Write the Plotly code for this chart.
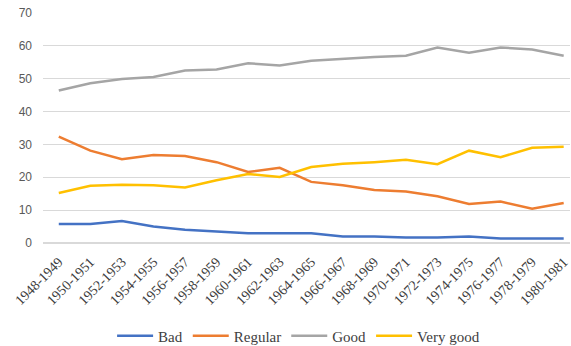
import plotly.graph_objects as go

periods = ["1948-1949", "1950-1951", "1952-1953", "1954-1955", "1956-1957", "1958-1959",
           "1960-1961", "1962-1963", "1964-1965", "1966-1967", "1968-1969", "1970-1971",
           "1972-1973", "1974-1975", "1976-1977", "1978-1979", "1980-1981"]
bad = [5.8, 5.8, 6.7, 5.0, 4.0, 3.5, 3.0, 3.0, 3.0, 2.0, 2.0, 1.7, 1.7, 2.0, 1.4, 1.4, 1.4]
regular = [32.4, 28.1, 25.5, 26.8, 26.5, 24.6, 21.6, 22.9, 18.6, 17.6, 16.1, 15.7, 14.2, 11.9, 12.6, 10.4, 12.2]
good = [46.4, 48.6, 49.9, 50.5, 52.5, 52.8, 54.7, 54.0, 55.5, 56.1, 56.6, 57.0, 59.5, 57.9, 59.5, 58.9, 57.0]
very_good = [15.2, 17.4, 17.7, 17.6, 16.9, 19.1, 21.0, 20.1, 23.1, 24.1, 24.6, 25.3, 24.0, 28.1, 26.1, 29.0, 29.3]

series = [("Bad", bad, "#4472C4"), ("Regular", regular, "#ED7D31"),
          ("Good", good, "#A5A5A5"), ("Very good", very_good, "#FFC000")]

SERIF = "Liberation Serif, Times New Roman, serif"

fig = go.Figure()
for name, vals, color in series:
    fig.add_trace(go.Scatter(x=periods, y=vals, name=name, mode="lines",
                             line=dict(color=color, width=2.5)))

fig.update_layout(
    width=571, height=346,
    margin=dict(l=43, r=1, t=13, b=103),
    paper_bgcolor="white", plot_bgcolor="white",
    font=dict(family=SERIF, size=13, color="#404040"),
    legend=dict(orientation="h", x=0.485, xanchor="center",
                yref="container", y=1 - 336 / 346, yanchor="middle",
                font=dict(family=SERIF, size=15, color="#404040"),
                itemwidth=36, tracegroupgap=0),
    showlegend=True,
)
fig.update_xaxes(type="category", range=[-0.5, 16.2], tickangle=-45,
                 showgrid=False, showline=False, ticks="", automargin=False,
                 ticklabelstandoff=7,
                 tickfont=dict(family=SERIF, size=14, color="#404040"))
fig.update_yaxes(range=[0, 70], dtick=10, showgrid=True, gridcolor="#D9D9D9", gridwidth=1,
                 zeroline=True, zerolinecolor="#D9D9D9", showline=False, ticks="",
                 ticklabelstandoff=10, automargin=False,
                 tickfont=dict(family="Liberation Sans, Arial, sans-serif", size=12, color="#595959"))

fig.write_html("out.html")
